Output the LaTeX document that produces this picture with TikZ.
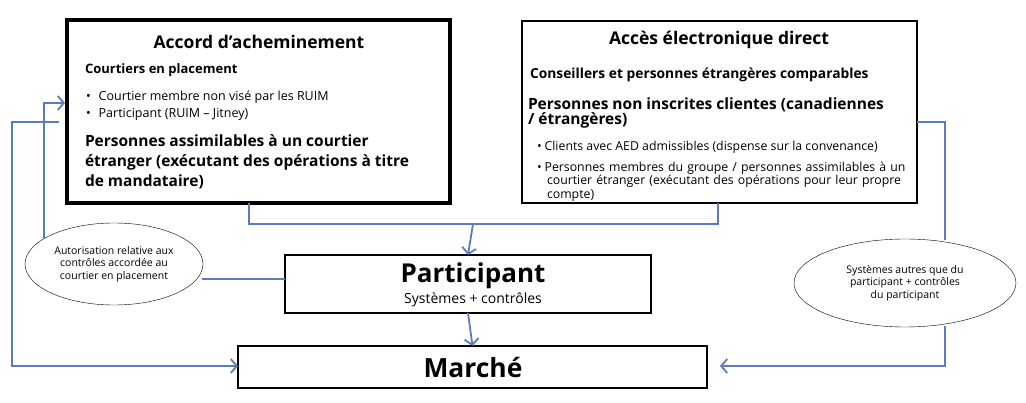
\documentclass[tikz,border=0pt]{standalone}
\usepackage{fontspec}
\setmainfont{Open Sans}
\usetikzlibrary{arrows.meta,positioning,shapes.geometric}
\definecolor{linkblue}{RGB}{91,123,191}

\begin{document}
\begin{tikzpicture}[x=1pt, y=-1pt,
  every node/.style = {inner sep=0pt, outer sep=0pt},
  box/.style = {draw, line width=2pt, anchor=north west},
  bubble/.style = {draw, ellipse, thin, align=center, font=\fontsize{10.5}{12.5}\selectfont},
  txt/.style = {anchor=north west, align=left},
  link/.style = {draw=linkblue, line width=1.8pt},
  arr/.style = {link, -{Straight Barb[length=6pt,width=14pt]}}]
  \useasboundingbox (0,0) rectangle (1026,403);
  % boxes
  \node[box, line width=4pt, minimum width=383pt, minimum height=183pt] (accord) at (67,20) {};
  \node[box, line width=2.5pt, minimum width=395pt, minimum height=182pt] (aed) at (522,21) {};
  \node[box, minimum width=366pt, minimum height=58pt] (part) at (285,255) {};
  \node[box, minimum width=469pt, minimum height=42pt] (marche) at (238,346) {};
  % box texts
  \node[font=\bfseries\fontsize{17.5}{19}\selectfont] (accordT) at (259,42) {Accord d’acheminement};
  \node[txt, font=\bfseries\fontsize{13}{15}\selectfont] (courtiers) at (85,64) {Courtiers en placement};
  \node[txt, font=\fontsize{12.5}{17}\selectfont] (cbul) at (86,91)
    {\textbullet\hspace{8pt}Courtier membre non visé par les RUIM\\ \textbullet\hspace{8pt}Participant (RUIM – Jitney)};
  \node[txt, font=\bfseries\fontsize{15.5}{20}\selectfont] (assim) at (85,135)
    {Personnes assimilables à un courtier\\étranger (exécutant des opérations à titre\\de mandataire)};
  \node[font=\bfseries\fontsize{17.5}{19}\selectfont] (aedT) at (719,40) {Accès électronique direct};
  \node[txt, font=\bfseries\fontsize{13.8}{15}\selectfont] (conseil) at (530,68)
    {Conseillers et personnes étrangères comparables};
  \node[txt, font=\bfseries\fontsize{15.5}{15}\selectfont] (nonins) at (528,98)
    {Personnes non inscrites clientes (canadiennes\\/ étrangères)};
  \node[txt, font=\fontsize{12.3}{13.5}\selectfont] (abul1) at (537,141)
    {\textbullet\hspace{3pt}Clients avec AED admissibles (dispense sur la convenance)};
  \node[txt, font=\fontsize{12.3}{13.5}\selectfont, text width=380pt] (abul2) at (537,162)
    {\textbullet\hspace{3pt}Personnes membres du groupe / personnes assimilables à un\\\hspace*{10pt}courtier étranger (exécutant des opérations pour leur propre\\\hspace*{10pt}compte)};
  \node[font=\bfseries\fontsize{26}{28}\selectfont] (partT) at (473,276) {Participant};
  \node[font=\fontsize{14}{16}\selectfont] (partS) at (473,300) {Systèmes + contrôles};
  \node[font=\bfseries\fontsize{26.4}{28}\selectfont] (marcheT) at (473,368) {Marché};
  % ellipses
  \node[bubble, minimum width=178pt, minimum height=82pt] (autor) at (114,264)
    {Autorisation relative aux\\contrôles accordée au\\courtier en placement};
  \node[bubble, minimum width=222pt, minimum height=88pt] (autres) at (905,283)
    {Systèmes autres que du\\participant + contrôles\\du participant};
  % connectors
  \coordinate (join) at (473,224);
  \coordinate (accDown) at (249,203);
  \coordinate (aedDown) at (718,203);
  \coordinate (partL) at (285,279);
  \coordinate (autorR) at (202,279);
  \coordinate (autorUp) at (44,239);
  \coordinate (accIn) at (65,103);
  \coordinate (accOut) at (59,122);
  \coordinate (mktL) at (238,366);
  \coordinate (aedR) at (917,122);
  \coordinate (autresUp) at (945,240);
  \coordinate (autresDown) at (945,326);
  \coordinate (mktR) at (720,366);
  \draw[link] (accDown) |- (join);
  \draw[link] (aedDown) |- (join);
  \draw[arr] (join) -- (part.north);
  \draw[arr] (part.south) -- (marche.north);
  \draw[link] (partL) -- (autorR);
  \draw[arr] (autorUp) |- (accIn);
  \draw[arr] (accOut) -| (12,366) -- (mktL);
  \draw[link] (aedR) -| (autresUp);
  \draw[arr] (autresDown) |- (mktR);
\end{tikzpicture}
\end{document}
